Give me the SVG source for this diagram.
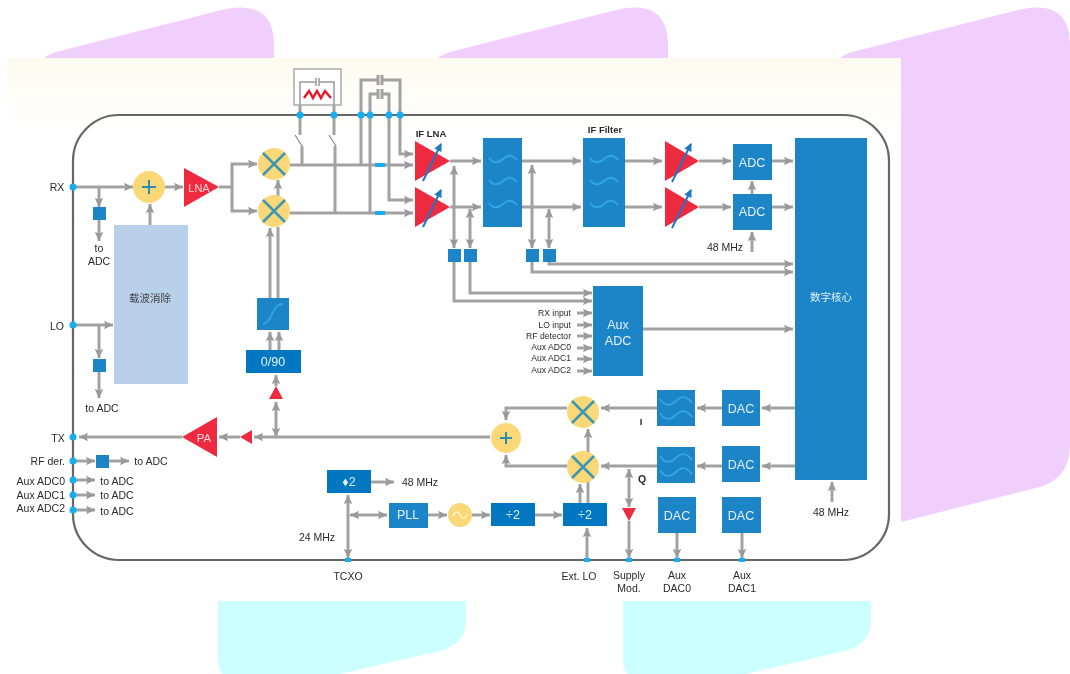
<svg xmlns="http://www.w3.org/2000/svg" xmlns:xlink="http://www.w3.org/1999/xlink" width="1070" height="674" viewBox="0 0 1070 674">
<style>
.t{font-family:"Liberation Sans",sans-serif;font-size:10.5px;fill:#2a2a2a;text-anchor:middle;dominant-baseline:central}
.s{font-size:10.5px}
.m{font-size:8.6px}
.b{font-weight:700;font-size:9.5px}
.e{text-anchor:end}
.w{font-family:"Liberation Sans",sans-serif;fill:#e4f0fa;font-size:12.5px}
.bl{fill:#1f85c8}
.dk{fill:#0077c0}
.re{fill:#ee2a40}
.ye{fill:#fad878}
.dot{fill:#12aef0}
.x{stroke:#3c96b4;stroke-width:2.5;fill:none}
.wv{stroke:#2fa6e6;stroke-width:1.9;fill:none}
.l{stroke:#a2a2a2;stroke-width:3;fill:none}
.a{marker-end:url(#ah)}
.d{marker-end:url(#ah);marker-start:url(#ah)}
.sq{fill:#1f85c8}
.cjk{font-family:"Noto Sans CJK SC",sans-serif}
</style>
<defs>
<linearGradient id="cream" x1="0" y1="0" x2="0" y2="1"><stop offset="0" stop-color="#fdfaf0"/><stop offset="1" stop-color="#ffffff"/></linearGradient>
<marker id="ah" markerUnits="userSpaceOnUse" markerWidth="11" markerHeight="11" refX="9" refY="5.5" orient="auto-start-reverse"><path d="M0 1.2L9 5.5L0 9.8L1.5 5.5Z" fill="#9a9a9a"/></marker>
<marker id="bh" markerUnits="userSpaceOnUse" markerWidth="10" markerHeight="10" refX="7" refY="5" orient="auto"><path d="M0 1L8 5L0 9Z" fill="#1c78c0"/></marker>
<filter id="soft" x="-2%" y="-2%" width="104%" height="104%"><feGaussianBlur stdDeviation="0.6"/></filter>
<path id="wave" class="wv" d="M-14 -1C-10 5 -4 4 0 0S9 -5 14 1"/>
<path id="wave2" class="wv" d="M-16 -2C-11 6 -5 5 0 0S10 -6 16 2"/>
</defs>

<g id="background">
<path d="M42 60Q46 55 56 52L222 10Q274 -2 274 45V200H42Z" fill="#f1cffd"/>
<path d="M436 60Q440 55 450 52L616 10Q668 -2 668 45V200H436Z" fill="#f1cffd"/>
<path d="M838 60Q842 55 852 52L1018 10Q1070 -2 1070 45V445Q1070 478 1040 487L901 522V60Z" fill="#f1cffd"/>
<path d="M218 590H466V620Q466 644 440 651L340 674H222Q218 668 218 660Z" fill="#ccffff"/>
<path d="M623 590H871V620Q871 644 845 651L745 674H627Q623 668 623 660Z" fill="#ccffff"/>
<rect x="7" y="58" width="894" height="543" fill="#fff"/>
<rect x="7" y="58" width="894" height="72" fill="url(#cream)"/>
</g>

<g filter="url(#soft)">
<rect id="chip" x="73" y="115" width="816" height="445" rx="46" fill="none" stroke="#666" stroke-width="2.2"/>

<g id="connectors">
<path class="l a" d="M75 187H133"/>
<path class="l a" d="M99 187V207"/>
<path class="l a" d="M99 220V241"/>
<path class="l a" d="M165 187H183"/>
<path class="l a" d="M150 225V204"/>
<path class="l a" d="M219 187H232V164H257"/>
<path class="l a" d="M232 187V211H257"/>
<path class="l a" d="M278 196V180"/>
<path class="l a" d="M270 298V228"/>
<path class="l" d="M278 298V227"/>
<path class="l a" d="M270 350V332"/>
<path class="l a" d="M279 350V332"/>
<path class="l a" d="M276 386V375"/>
<path class="l d" d="M276 402V437"/>
<path class="l a" d="M75 325H113"/>
<path class="l a" d="M99 325V358"/>
<path class="l a" d="M99 372V398"/>
<path class="l a" d="M490 437H254"/>
<path class="l a" d="M240 437H219"/>
<path class="l a" d="M182 437H79"/>
<path class="l a" d="M75 461H95"/>
<path class="l a" d="M109 461H129"/>
<path class="l a" d="M75 480H95"/>
<path class="l a" d="M75 495H95"/>
<path class="l a" d="M75 510H95"/>
<path class="l a" d="M290 165H413"/>
<path class="l a" d="M290 213H413"/>
<path class="l" d="M300 105V135"/>
<path class="l" d="M334 105V135"/>
<path d="M295 135L302 146M329 135L336 146" stroke="#8a8a8a" stroke-width="1.2" fill="none"/>
<path class="l" d="M302 146V165"/>
<path class="l" d="M335 146V213"/>
<path class="l" d="M361 165V80H378"/>
<path class="l a" d="M382 80H400V154H413"/>
<path class="l" d="M370 213V94H378"/>
<path class="l a" d="M382 94H389V200H413"/>
<path class="l" d="M378 75V85M382 75V85M378 89V99M382 89V99" stroke-width="1.2"/>
<path class="l a" d="M450 161H481"/>
<path class="l a" d="M450 207H481"/>
<path class="l a" d="M522 161H581"/>
<path class="l a" d="M522 207H581"/>
<path class="l a" d="M625 161H662"/>
<path class="l a" d="M625 207H662"/>
<path class="l a" d="M699 161H731"/>
<path class="l a" d="M699 207H731"/>
<path class="l a" d="M772 161H793"/>
<path class="l a" d="M772 207H793"/>
<path class="l a" d="M752 194V181"/>
<path class="l a" d="M752 252V232"/>
<path class="l d" d="M454 166V248"/>
<path class="l d" d="M470 209V248"/>
<path class="l d" d="M532 165V248"/>
<path class="l d" d="M549 209V248"/>
<path class="l a" d="M454 262V301H592"/>
<path class="l a" d="M470 262V293H592"/>
<path class="l a" d="M549 262V264H793"/>
<path class="l a" d="M532 262V272H793"/>
<path class="l a" d="M577 313H592"/>
<path class="l a" d="M577 325H592"/>
<path class="l a" d="M577 336H592"/>
<path class="l a" d="M577 348H592"/>
<path class="l a" d="M577 359H592"/>
<path class="l a" d="M577 371H592"/>
<path class="l a" d="M643 329H793"/>
<path class="l a" d="M795 408H762"/>
<path class="l a" d="M722 408H697"/>
<path class="l a" d="M657 408H601"/>
<path class="l a" d="M795 466H762"/>
<path class="l a" d="M722 466H697"/>
<path class="l a" d="M657 466H601"/>
<path class="l a" d="M567 408H506V420"/>
<path class="l a" d="M567 466H506V455"/>
<path class="l a" d="M588 504V429"/>
<path class="l a" d="M580 503V484"/>
<path class="l d" d="M629 469V507"/>
<path class="l a" d="M629 521V558"/>
<path class="l a" d="M371 482H394"/>
<path class="l d" d="M348 495V558"/>
<path class="l d" d="M350 515H387"/>
<path class="l a" d="M428 515H447"/>
<path class="l a" d="M472 515H490"/>
<path class="l a" d="M535 515H562"/>
<path class="l a" d="M587 558V528"/>
<path class="l a" d="M677 533V558"/>
<path class="l a" d="M742 533V558"/>
<path class="l a" d="M832 502V482"/>
</g>

<g id="pins" class="dot">
<circle cx="73" cy="187" r="3.5"/><circle cx="73" cy="325" r="3.5"/><circle cx="73" cy="437" r="3.5"/><circle cx="73" cy="461" r="3.5"/><circle cx="73" cy="480" r="3.5"/><circle cx="73" cy="495" r="3.5"/><circle cx="73" cy="510" r="3.5"/>
<circle cx="300" cy="115" r="3.5"/><circle cx="334" cy="115" r="3.5"/><circle cx="361" cy="115" r="3.5"/><circle cx="370" cy="115" r="3.5"/><circle cx="389" cy="115" r="3.5"/><circle cx="400" cy="115" r="3.5"/>
<rect x="345" y="558" width="6" height="4"/><rect x="584" y="558" width="6" height="4"/><rect x="626" y="558" width="6" height="4"/><rect x="674" y="558" width="6" height="4"/><rect x="739" y="558" width="6" height="4"/>
<rect x="375" y="163" width="10" height="4"/><rect x="375" y="211" width="10" height="4"/>
</g>

<g id="sum-rx"><circle class="ye" cx="149" cy="187" r="16"/><path d="M142 187H156M149 180V194" stroke="#2c8cb0" stroke-width="2"/></g>
<g id="lna"><path class="re" d="M184 168V207L219 187Z"/><text class="t" x="199" y="188" style="fill:#f6d5da;font-size:11px">LNA</text></g>
<g id="mixer-rx-i"><circle class="ye" cx="274" cy="164" r="16"/><path class="x" d="M263 153L285 175M285 153L263 175"/></g>
<g id="mixer-rx-q"><circle class="ye" cx="274" cy="211" r="16"/><path class="x" d="M263 200L285 222M285 200L263 222"/></g>
<g id="tap-rx"><rect class="sq" x="93" y="207" width="13" height="13"/></g>
<g id="tap-lo"><rect class="sq" x="93" y="359" width="13" height="13"/></g>
<g id="tap-rf"><rect class="sq" x="96" y="455" width="13" height="13"/></g>
<g id="carrier-cancel"><rect x="114" y="225" width="74" height="159" fill="#b8d0ea"/><text class="t cjk" x="150" y="297" style="font-size:10.5px;fill:#444">载波消除</text></g>
<g id="lo-filter"><rect class="bl" x="257" y="298" width="32" height="32"/><path class="wv" d="M263 324C272 324 271 304 283 304"/></g>
<g id="phase"><rect class="dk" x="246" y="350" width="55" height="23"/><text class="t w" x="273" y="362">0/90</text></g>
<g id="lo-driver"><path class="re" d="M276 386L269 399H283Z"/></g>
<g id="pa"><path class="re" d="M182 437L217 417V457Z"/><text class="t" x="204" y="438" style="fill:#f6d5da;font-size:11.5px">PA</text></g>
<g id="pa-driver"><path class="re" d="M240 437L252 430V444Z"/></g>

<g id="notch"><rect x="294" y="69" width="47" height="36" fill="#fff" stroke="#aaa" stroke-width="1.5"/>
<path d="M300 105V82H316M319 82H334V105M316 78V86M319 78V86" fill="none" stroke="#999" stroke-width="1.5"/>
<path d="M304 98L309 91L313 98L317 91L321 98L325 91L331 98" fill="none" stroke="#e8142c" stroke-width="2.4"/></g>

<g id="if-lna-i"><path class="re" d="M415 141V181L450 161Z"/><path d="M423 181L441 144" stroke="#1c78c0" stroke-width="2" marker-end="url(#bh)"/></g>
<g id="if-lna-q"><path class="re" d="M415 187V227L450 207Z"/><path d="M423 227L441 190" stroke="#1c78c0" stroke-width="2" marker-end="url(#bh)"/></g>
<g id="bpf1"><rect class="bl" x="483" y="138" width="39" height="89"/><use href="#wave" x="503" y="159"/><use href="#wave" x="503" y="181"/><use href="#wave" x="503" y="204"/></g>
<g id="bpf2"><rect class="bl" x="583" y="138" width="42" height="89"/><use href="#wave" x="604" y="159"/><use href="#wave" x="604" y="181"/><use href="#wave" x="604" y="204"/></g>
<g id="vga-i"><path class="re" d="M665 141V181L699 161Z"/><path d="M672 182L691 144" stroke="#1c78c0" stroke-width="2" marker-end="url(#bh)"/></g>
<g id="vga-q"><path class="re" d="M665 187V227L699 207Z"/><path d="M672 228L691 190" stroke="#1c78c0" stroke-width="2" marker-end="url(#bh)"/></g>
<g id="adc-i"><rect class="bl" x="733" y="144" width="39" height="36"/><text class="t w" x="752" y="163">ADC</text></g>
<g id="adc-q"><rect class="bl" x="733" y="194" width="39" height="36"/><text class="t w" x="752" y="212">ADC</text></g>
<g id="digital-core"><rect class="bl" x="795" y="138" width="72" height="342"/><text class="t cjk" x="831" y="296" style="fill:#e4f0fa;font-size:10.5px">数字核心</text></g>
<g id="tap1"><rect class="sq" x="448" y="249" width="13" height="13"/></g>
<g id="tap2"><rect class="sq" x="464" y="249" width="13" height="13"/></g>
<g id="tap3"><rect class="sq" x="526" y="249" width="13" height="13"/></g>
<g id="tap4"><rect class="sq" x="543" y="249" width="13" height="13"/></g>
<g id="aux-adc"><rect class="bl" x="593" y="286" width="50" height="90"/><text class="t w" x="618" y="325">Aux</text><text class="t w" x="618" y="341">ADC</text></g>

<g id="dac-i"><rect class="bl" x="722" y="390" width="38" height="36"/><text class="t w" x="741" y="409">DAC</text></g>
<g id="dac-q"><rect class="bl" x="722" y="446" width="38" height="36"/><text class="t w" x="741" y="465">DAC</text></g>
<g id="lpf-i"><rect class="bl" x="657" y="390" width="38" height="36"/><use href="#wave2" x="676" y="401"/><use href="#wave2" x="676" y="415"/></g>
<g id="lpf-q"><rect class="bl" x="657" y="447" width="38" height="36"/><use href="#wave2" x="676" y="458"/><use href="#wave2" x="676" y="472"/></g>
<g id="mixer-tx-i"><circle class="ye" cx="583" cy="412" r="16"/><path class="x" d="M572 401L594 423M594 401L572 423"/></g>
<g id="mixer-tx-q"><circle class="ye" cx="583" cy="467" r="16"/><path class="x" d="M572 456L594 478M594 456L572 478"/></g>
<g id="sum-tx"><circle class="ye" cx="506" cy="438" r="15"/><path d="M500 438H512M506 432V444" stroke="#2c8cb0" stroke-width="2"/></g>
<g id="supply-amp"><path class="re" d="M622 508H636L629 521Z"/></g>
<g id="doubler"><rect class="dk" x="327" y="470" width="44" height="23"/><text class="t w" x="349" y="482">♦2</text></g>
<g id="pll"><rect class="bl" x="389" y="503" width="39" height="25"/><text class="t w" x="408" y="515">PLL</text></g>
<g id="vco"><circle class="ye" cx="460" cy="515" r="12"/><path d="M453 516C456 510 458 511 460 515S465 520 467 514" fill="none" stroke="#fff3cf" stroke-width="1.4"/></g>
<g id="div1"><rect class="dk" x="491" y="503" width="44" height="23"/><text class="t w" x="513" y="515">÷2</text></g>
<g id="div2"><rect class="dk" x="563" y="503" width="44" height="23"/><text class="t w" x="585" y="515">÷2</text></g>
<g id="aux-dac0"><rect class="bl" x="658" y="497" width="38" height="36"/><text class="t w" x="677" y="516">DAC</text></g>
<g id="aux-dac1"><rect class="bl" x="722" y="497" width="39" height="36"/><text class="t w" x="741" y="516">DAC</text></g>

<g id="labels">
<text class="t" x="57" y="187">RX</text>
<text class="t" x="57" y="326">LO</text>
<text class="t" x="58" y="438">TX</text>
<text class="t s e" x="65" y="461">RF der.</text>
<text class="t s e" x="65" y="481">Aux ADC0</text>
<text class="t s e" x="65" y="495">Aux ADC1</text>
<text class="t s e" x="65" y="508">Aux ADC2</text>
<text class="t s" x="99" y="248">to</text>
<text class="t s" x="99" y="261">ADC</text>
<text class="t s" x="102" y="408">to ADC</text>
<text class="t s" x="151" y="461">to ADC</text>
<text class="t s" x="117" y="481">to ADC</text>
<text class="t s" x="117" y="495">to ADC</text>
<text class="t s" x="117" y="511">to ADC</text>
<text class="t b" x="431" y="133">IF LNA</text>
<text class="t b" x="605" y="129">IF Filter</text>
<text class="t s" x="725" y="247">48 MHz</text>
<text class="t m e" x="571" y="313">RX input</text>
<text class="t m e" x="571" y="325">LO input</text>
<text class="t m e" x="571" y="336">RF detector</text>
<text class="t m e" x="571" y="347">Aux ADC0</text>
<text class="t m e" x="571" y="358">Aux ADC1</text>
<text class="t m e" x="571" y="370">Aux ADC2</text>
<text class="t b" x="641" y="421">I</text>
<text class="t b" x="642" y="479" style="font-size:10.5px">Q</text>
<text class="t s" x="420" y="482">48 MHz</text>
<text class="t s" x="317" y="537">24 MHz</text>
<text class="t s" x="831" y="512">48 MHz</text>
<text class="t s" x="348" y="576">TCXO</text>
<text class="t s" x="579" y="576">Ext. LO</text>
<text class="t s" x="629" y="575">Supply</text>
<text class="t s" x="629" y="588">Mod.</text>
<text class="t s" x="677" y="575">Aux</text>
<text class="t s" x="677" y="588">DAC0</text>
<text class="t s" x="742" y="575">Aux</text>
<text class="t s" x="742" y="588">DAC1</text>
</g>
</g>
</svg>
